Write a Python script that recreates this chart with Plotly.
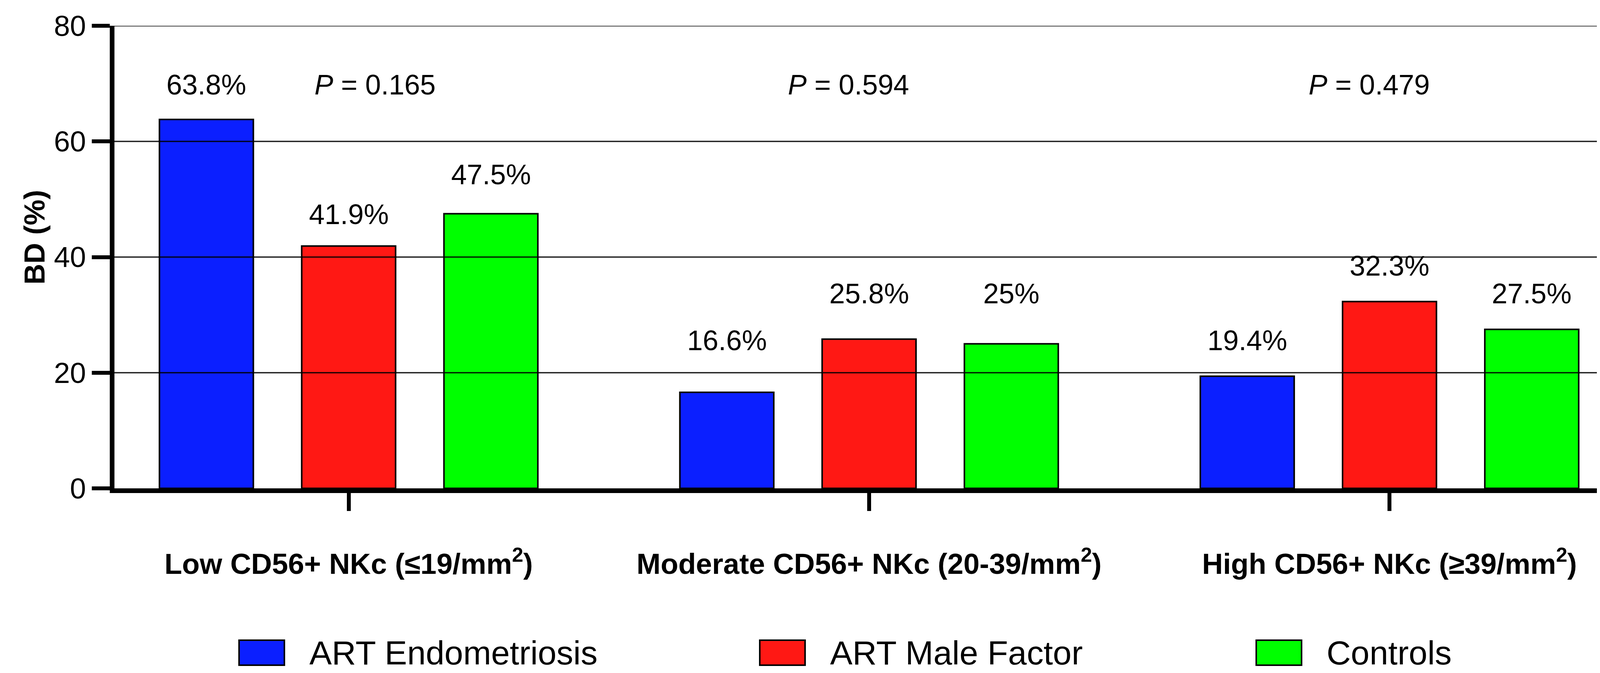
import plotly.graph_objects as go

# ---- data ----
categories = [
    "Low CD56+ NKc (≤19/mm<sup>2</sup>)",
    "Moderate CD56+ NKc (20-39/mm<sup>2</sup>)",
    "High CD56+ NKc (≥39/mm<sup>2</sup>)",
]
series_names = ["ART Endometriosis", "ART Male Factor", "Controls"]
endometriosis = [63.8, 16.6, 19.4]
male_factor = [41.9, 25.8, 32.3]
controls = [47.5, 25.0, 27.5]
p_values = ["0.165", "0.594", "0.479"]
y_ticks = [0, 20, 40, 60, 80]

# ---- style / layout ----
colors = ["#0B1FFF", "#FF1814", "#00FF00"]
FONT = "Arial, Liberation Sans, sans-serif"
W, H = 4187, 1724
ML, MR, MT, MB = 285, 29, 58, 481
BARGAP, BARGROUPGAP = 0.18, 0.34
# label centres (in axis units) for the value labels, per series
label_centres = [[69.8, 25.6, 25.6], [47.4, 33.7, 38.5], [54.3, 33.7, 33.7]]
p_offsets = [0.051, -0.040, -0.039]
p_centre = 69.8

series = [endometriosis, male_factor, controls]
xidx = list(range(len(categories)))

fig = go.Figure()
for name, vals, col in zip(series_names, series, colors):
    fig.add_trace(go.Bar(
        x=xidx, y=vals, name=name,
        marker=dict(color=col, line=dict(color="black", width=4)),
        showlegend=False,
    ))

slot = (1 - BARGAP) / len(series)
ann = []
for i, vals in enumerate(series):
    for j, v in enumerate(vals):
        ann.append(dict(
            x=j + (i - (len(series) - 1) / 2) * slot, y=label_centres[i][j],
            xref="x", yref="y", text=f"{v:g}%", showarrow=False,
            xanchor="center", yanchor="middle",
            font=dict(family=FONT, size=72, color="black"),
        ))
for j, p in enumerate(p_values):
    ann.append(dict(
        x=j + p_offsets[j], y=p_centre, xref="x", yref="y",
        text=f"<i>P</i> = {p}", showarrow=False,
        xanchor="center", yanchor="middle",
        font=dict(family=FONT, size=72, color="black"),
    ))

plot_w = W - ML - MR
plot_h = H - MT - MB


def px_x(px):
    return (px - ML) / plot_w


def px_y(py):
    return (H - MB - py) / plot_h


# y-axis title
ann.append(dict(
    x=px_x(80), y=px_y(600), xref="paper", yref="paper",
    text="<b>BD (%)</b>", textangle=-90, showarrow=False,
    xanchor="center", yanchor="middle",
    font=dict(family=FONT, size=74, color="black"),
))

# legend built from series names / colours
legend_left_px = [604, 1937, 3208]
shapes = []
for name, col, lx in zip(series_names, colors, legend_left_px):
    shapes.append(dict(
        type="rect", xref="paper", yref="paper",
        x0=px_x(lx), x1=px_x(lx + 116), y0=px_y(1696), y1=px_y(1632),
        fillcolor=col, line=dict(color="black", width=4), layer="above",
    ))
    ann.append(dict(
        x=px_x(lx + 116 + 62), y=px_y(1664), xref="paper", yref="paper",
        text=name, showarrow=False, xanchor="left", yanchor="middle",
        font=dict(family=FONT, size=86, color="black"),
    ))

# grid lines drawn over the bars
for v in y_ticks[1:]:
    shapes.append(dict(
        type="line", xref="paper", yref="y", x0=0, x1=1, y0=v, y1=v,
        line=dict(color="rgba(0,0,0,0.85)", width=3.5), layer="above",
    ))

fig.update_layout(
    width=W, height=H,
    margin=dict(l=ML, r=MR, t=MT, b=MB, pad=0),
    paper_bgcolor="white", plot_bgcolor="white",
    barmode="group", bargap=BARGAP, bargroupgap=BARGROUPGAP,
    annotations=ann, shapes=shapes,
    font=dict(family=FONT, color="black"),
    xaxis=dict(
        range=[-0.45, 2.457], tickmode="array", tickvals=xidx, ticktext=categories,
        showline=True, linecolor="black", linewidth=12,
        ticks="outside", ticklen=46, tickwidth=10, tickcolor="black",
        tickfont=dict(family=FONT, size=74, color="black", weight="bold"),
        ticklabelstandoff=72,
        showgrid=False, zeroline=False, fixedrange=True,
    ),
    yaxis=dict(
        range=[0, 80], tickmode="array", tickvals=y_ticks,
        showline=True, linecolor="black", linewidth=12,
        ticks="outside", ticklen=46, tickwidth=10, tickcolor="black",
        tickfont=dict(family=FONT, size=74, color="black"),
        showgrid=False, zeroline=False, fixedrange=True,
    ),
)

fig.write_html("out.html")
